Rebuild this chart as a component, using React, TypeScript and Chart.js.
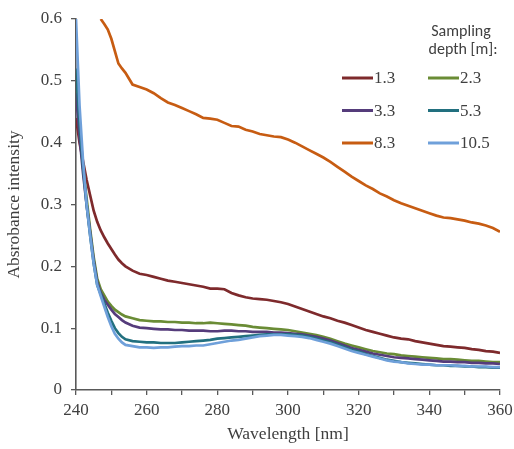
import React, { useEffect, useRef } from "react";
import { Chart, registerables } from "chart.js";

Chart.register(...registerables);

// Wavelengths (nm)
const wavelengths = [
  240, 241, 242, 243, 244, 245, 246, 247, 248, 249, 250, 251, 252, 253, 254,
  256, 258, 260, 262, 264, 266, 268, 270, 272, 274, 276, 278, 280,
  282, 284, 286, 288, 290, 292, 294, 296, 298, 300,
  302, 304, 306, 308, 310, 312, 314, 316, 318, 320,
  322, 324, 326, 328, 330, 332, 334, 336, 338, 340,
  342, 344, 346, 348, 350, 352, 354, 356, 358, 360,
];

const depthLabels = ["1.3", "2.3", "3.3", "5.3", "8.3", "10.5"];
const depthColors = ["#7E2A2C", "#6A8C35", "#553C7B", "#22707F", "#C75C12", "#6FA0DA"];

const depth1_3 = [
  0.44, 0.40, 0.37, 0.34, 0.315, 0.29, 0.272, 0.258, 0.247, 0.237, 0.228, 0.219, 0.211, 0.205, 0.200,
  0.193, 0.188, 0.186, 0.183, 0.180, 0.177, 0.175, 0.173, 0.171, 0.169, 0.167, 0.164, 0.164,
  0.163, 0.157, 0.153, 0.150, 0.148, 0.147, 0.146, 0.144, 0.142, 0.139,
  0.135, 0.131, 0.127, 0.123, 0.119, 0.116, 0.112, 0.109, 0.105, 0.101,
  0.097, 0.094, 0.091, 0.088, 0.085, 0.083, 0.082, 0.079, 0.077, 0.075,
  0.073, 0.071, 0.070, 0.069, 0.068, 0.066, 0.065, 0.063, 0.062, 0.060,
];
const depth2_3 = [
  0.50, 0.42, 0.36, 0.31, 0.26, 0.215, 0.18, 0.163, 0.153, 0.143, 0.136, 0.130, 0.126, 0.122, 0.119,
  0.116, 0.113, 0.112, 0.111, 0.111, 0.110, 0.110, 0.109, 0.109, 0.108, 0.108, 0.109, 0.108,
  0.107, 0.106, 0.105, 0.104, 0.102, 0.101, 0.100, 0.099, 0.098, 0.097,
  0.095, 0.093, 0.091, 0.089, 0.086, 0.083, 0.079, 0.075, 0.072, 0.069,
  0.066, 0.063, 0.061, 0.059, 0.058, 0.056, 0.055, 0.054, 0.053, 0.052,
  0.051, 0.050, 0.050, 0.049, 0.048, 0.047, 0.047, 0.046, 0.045, 0.045,
];
const depth3_3 = [
  0.48, 0.41, 0.35, 0.30, 0.255, 0.21, 0.175, 0.157, 0.146, 0.138, 0.130, 0.123, 0.118, 0.113, 0.109,
  0.104, 0.101, 0.100, 0.099, 0.098, 0.098, 0.097, 0.097, 0.096, 0.096, 0.096, 0.095, 0.095,
  0.096, 0.096, 0.095, 0.095, 0.094, 0.094, 0.094, 0.093, 0.093, 0.092,
  0.091, 0.090, 0.088, 0.086, 0.083, 0.080, 0.076, 0.072, 0.068, 0.065,
  0.062, 0.059, 0.057, 0.055, 0.053, 0.052, 0.051, 0.050, 0.049, 0.048,
  0.047, 0.046, 0.046, 0.045, 0.045, 0.044, 0.044, 0.043, 0.043, 0.042,
];
const depth5_3 = [
  0.52, 0.43, 0.36, 0.30, 0.25, 0.205, 0.17, 0.155, 0.14, 0.125, 0.112, 0.100, 0.092, 0.086, 0.082,
  0.079, 0.078, 0.077, 0.077, 0.076, 0.076, 0.076, 0.077, 0.078, 0.079, 0.080, 0.081, 0.083,
  0.084, 0.085, 0.086, 0.087, 0.088, 0.089, 0.090, 0.090, 0.090, 0.090,
  0.089, 0.088, 0.086, 0.083, 0.080, 0.077, 0.073, 0.069, 0.065, 0.062,
  0.058, 0.055, 0.052, 0.049, 0.047, 0.045, 0.044, 0.043, 0.042, 0.041,
  0.040, 0.040, 0.039, 0.039, 0.038, 0.038, 0.037, 0.037, 0.036, 0.036,
];
const depth8_3 = [
  null, null, null, null, null, null, null, 0.600, 0.592, 0.583, 0.568, 0.548, 0.528, 0.520, 0.513,
  0.494, 0.490, 0.486, 0.480, 0.472, 0.465, 0.461, 0.456, 0.451, 0.446, 0.440, 0.439, 0.437,
  0.432, 0.427, 0.426, 0.421, 0.418, 0.414, 0.412, 0.410, 0.409, 0.405,
  0.400, 0.394, 0.388, 0.382, 0.376, 0.369, 0.361, 0.353, 0.345, 0.338,
  0.331, 0.325, 0.318, 0.313, 0.307, 0.302, 0.298, 0.294, 0.290, 0.286,
  0.282, 0.279, 0.278, 0.276, 0.274, 0.271, 0.269, 0.266, 0.262, 0.256,
];
const depth10_5 = [
  0.60, 0.46, 0.37, 0.30, 0.25, 0.205, 0.17, 0.152, 0.135, 0.118, 0.103, 0.091, 0.083, 0.077, 0.073,
  0.071, 0.069, 0.069, 0.068, 0.069, 0.069, 0.070, 0.071, 0.071, 0.072, 0.072, 0.074, 0.076,
  0.078, 0.080, 0.081, 0.083, 0.085, 0.087, 0.088, 0.089, 0.089, 0.088,
  0.087, 0.086, 0.084, 0.081, 0.078, 0.075, 0.071, 0.067, 0.063, 0.060,
  0.057, 0.054, 0.051, 0.048, 0.046, 0.045, 0.043, 0.042, 0.041, 0.041,
  0.040, 0.040, 0.040, 0.039, 0.039, 0.038, 0.038, 0.038, 0.037, 0.037,
];

const seriesValues = [depth1_3, depth2_3, depth3_3, depth5_3, depth8_3, depth10_5];

const xTickValues = [240, 250, 260, 270, 280, 290, 300, 310, 320, 330, 340, 350, 360];
const xLabelEvery = 20;
const yTickValues = [0, 0.1, 0.2, 0.3, 0.4, 0.5, 0.6];

const legendTitle = ["Sampling", "depth [m]:"];
const xTitle = "Wavelength [nm]";
const yTitle = "Absrobance intensity";

const TEXT = "#404040";
const AXIS = "#595959";
const SERIF = "Liberation Serif";
const SANS = "Carlito";

const legendPlugin = {
  id: "gridLegend",
  afterDraw(chart: any) {
    const ctx = chart.ctx as CanvasRenderingContext2D;
    ctx.save();
    ctx.fillStyle = TEXT;
    ctx.font = `16px ${SANS}`;
    ctx.textAlign = "center";
    ctx.textBaseline = "alphabetic";
    ctx.fillText(legendTitle[0], 461, 36);
    ctx.fillText(legendTitle[1], 463, 54);
    chart.data.datasets.forEach((ds: any, i: number) => {
      const col = i % 2;
      const row = Math.floor(i / 2);
      const x0 = col === 0 ? 342 : 428;
      const y = 78 + row * 32.5;
      ctx.strokeStyle = ds.borderColor;
      ctx.lineWidth = 3;
      ctx.beginPath();
      ctx.moveTo(x0, y);
      ctx.lineTo(x0 + 31, y);
      ctx.stroke();
      ctx.font = `17px ${SERIF}`;
      ctx.textAlign = "left";
      ctx.textBaseline = "middle";
      ctx.fillStyle = TEXT;
      ctx.fillText(ds.label, x0 + 32, y + 1);
    });
    ctx.restore();
  },
};

export default function App() {
  const canvasRef = useRef<HTMLCanvasElement | null>(null);

  useEffect(() => {
    if (!canvasRef.current) return;
    const datasets = seriesValues.map((vals, i) => ({
      label: depthLabels[i],
      data: wavelengths.map((w, j) => ({ x: w, y: vals[j] })),
      borderColor: depthColors[i],
      backgroundColor: depthColors[i],
      borderWidth: 2.7,
      pointRadius: 0,
      tension: 0,
      fill: false,
      spanGaps: false,
      order: seriesValues.length - i,
    }));

    const chart = new Chart(canvasRef.current, {
      type: "line",
      data: { datasets },
      plugins: [legendPlugin],
      options: {
        responsive: false,
        animation: false,
        font: { family: SERIF },
        layout: { padding: { top: 19, right: 14, left: 0, bottom: 0 } },
        plugins: {
          legend: { display: false },
          tooltip: { enabled: false },
        },
        scales: {
          x: {
            type: "linear",
            min: 240,
            max: 360,
            afterBuildTicks: (scale: any) => {
              scale.ticks = xTickValues.map((v) => ({ value: v }));
            },
            afterFit: (scale: any) => {
              scale.height = 59;
              scale.paddingLeft = 0;
              scale.paddingRight = 0;
            },
            ticks: {
              autoSkip: false,
              maxRotation: 0,
              padding: 5,
              color: TEXT,
              font: { family: SERIF, size: 17 },
              callback: (v: any) => (Number(v) % xLabelEvery === 0 ? String(v) : ""),
            },
            grid: {
              drawOnChartArea: false,
              drawTicks: true,
              tickLength: 5,
              color: AXIS,
              lineWidth: 1.3,
            },
            border: { display: true, color: AXIS, width: 1.6 },
            title: {
              display: true,
              text: xTitle,
              color: TEXT,
              font: { family: SERIF, size: 17.5 },
              padding: { top: 2, bottom: 4 },
            },
          },
          y: {
            type: "linear",
            min: 0,
            max: 0.6,
            afterBuildTicks: (scale: any) => {
              scale.ticks = yTickValues.map((v) => ({ value: v }));
            },
            afterFit: (scale: any) => {
              scale.width = 76;
              scale.paddingTop = 0;
              scale.paddingBottom = 0;
            },
            ticks: {
              padding: 9,
              color: TEXT,
              font: { family: SERIF, size: 17 },
              callback: (v: any) => (Number(v) === 0 ? "0" : Number(v).toFixed(1)),
            },
            grid: {
              drawOnChartArea: false,
              drawTicks: true,
              tickLength: 5,
              color: AXIS,
              lineWidth: 1.3,
            },
            border: { display: true, color: AXIS, width: 1.6 },
            title: {
              display: true,
              text: yTitle,
              color: TEXT,
              font: { family: SERIF, size: 17.5 },
              padding: { top: 4, bottom: 4 },
            },
          },
        },
      },
    });
    return () => chart.destroy();
  }, []);

  return (
    <div style={{ position: "absolute", left: 0, top: 0, width: 514, height: 449, background: "#fff" }}>
      <canvas ref={canvasRef} width={514} height={449} style={{ display: "block" }} />
    </div>
  );
}
